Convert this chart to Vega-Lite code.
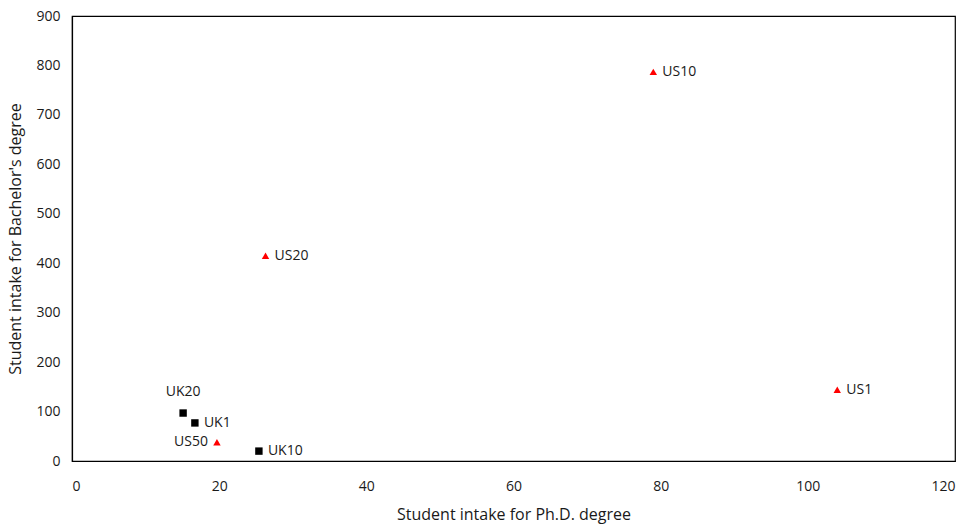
{
  "$schema": "https://vega.github.io/schema/vega-lite/v6.json",
  "width": 883,
  "height": 445,
  "autosize": {"type": "none"},
  "padding": {"left": 72, "top": 16, "right": 13, "bottom": 66},
  "config": {
    "view": {"stroke": "#000000", "strokeWidth": 1.2},
    "font": "Open Sans",
    "axis": {"grid": false, "ticks": false, "domainColor": "#000000", "domainWidth": 1.2, "labelFont": "Open Sans", "labelFontSize": 14, "labelColor": "#1a1a1a", "titleFont": "Open Sans", "titleFontSize": 16, "titleFontWeight": "normal", "titleColor": "#1a1a1a"}
  },
  "data": {
    "values": [
      {"name": "US1", "country": "US", "phd": 104, "bachelor": 144},
      {"name": "US10", "country": "US", "phd": 79, "bachelor": 787},
      {"name": "US20", "country": "US", "phd": 26.3, "bachelor": 415},
      {"name": "US50", "country": "US", "phd": 19.7, "bachelor": 38},
      {"name": "UK1", "country": "UK", "phd": 16.7, "bachelor": 77},
      {"name": "UK10", "country": "UK", "phd": 25.4, "bachelor": 20},
      {"name": "UK20", "country": "UK", "phd": 15.1, "bachelor": 97}
    ]
  },
  "encoding": {
    "x": {"field": "phd", "type": "quantitative", "scale": {"domain": [0, 120], "nice": false}, "axis": {"values": [0, 20, 40, 60, 80, 100, 120], "labelPadding": 18, "title": "Student intake for Ph.D. degree", "titlePadding": 13}},
    "y": {"field": "bachelor", "type": "quantitative", "scale": {"domain": [0, 900], "nice": false}, "axis": {"values": [0, 100, 200, 300, 400, 500, 600, 700, 800, 900], "labelPadding": 12, "title": "Student intake for Bachelor's degree", "titlePadding": 12}}
  },
  "layer": [
    {
      "mark": {"type": "point", "filled": true, "opacity": 1, "size": 55},
      "encoding": {
        "shape": {"field": "country", "type": "nominal", "scale": {"domain": ["US", "UK"], "range": ["triangle-up", "square"]}, "legend": null},
        "color": {"field": "country", "type": "nominal", "scale": {"domain": ["US", "UK"], "range": ["#ff0000", "#000000"]}, "legend": null}
      }
    },
    {
      "transform": [{"filter": "datum.name !== 'UK20' && datum.name !== 'US50'"}],
      "mark": {"type": "text", "align": "left", "baseline": "middle", "dx": 9, "fontSize": 14, "color": "#1a1a1a", "font": "Open Sans"},
      "encoding": {"text": {"field": "name"}}
    },
    {
      "transform": [{"filter": "datum.name === 'US50'"}],
      "mark": {"type": "text", "align": "right", "baseline": "middle", "dx": -9, "fontSize": 14, "color": "#1a1a1a", "font": "Open Sans"},
      "encoding": {"text": {"field": "name"}}
    },
    {
      "transform": [{"filter": "datum.name === 'UK20'"}],
      "mark": {"type": "text", "align": "center", "baseline": "middle", "dx": 0, "dy": -21, "fontSize": 14, "color": "#1a1a1a", "font": "Open Sans"},
      "encoding": {"text": {"field": "name"}}
    }
  ]
}
